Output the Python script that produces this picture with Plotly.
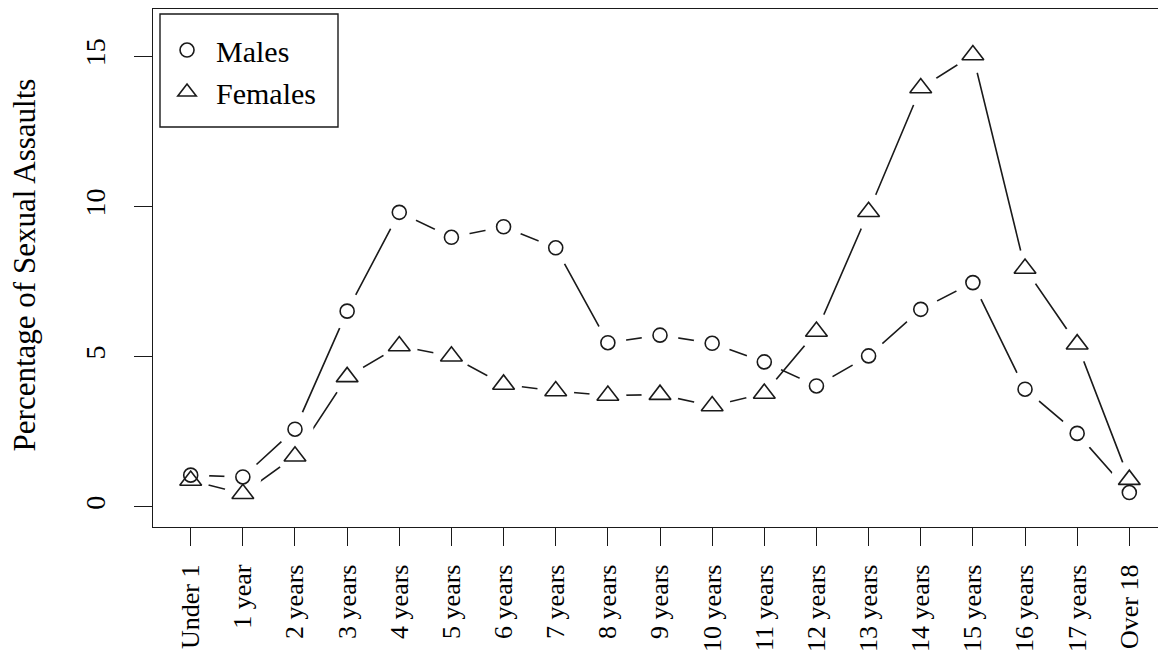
import plotly.graph_objects as go

ages = ["Under 1", "1 year", "2 years", "3 years", "4 years", "5 years", "6 years",
        "7 years", "8 years", "9 years", "10 years", "11 years", "12 years",
        "13 years", "14 years", "15 years", "16 years", "17 years", "Over 18"]
males = [1.06, 1.0, 2.59, 6.52, 9.81, 8.98, 9.33, 8.63, 5.47, 5.72, 5.45, 4.83,
         4.03, 5.03, 6.58, 7.47, 3.92, 2.45, 0.48]
females = [0.88, 0.44, 1.69, 4.33, 5.36, 5.02, 4.08, 3.86, 3.71, 3.74, 3.36, 3.78,
           5.84, 9.83, 13.95, 15.05, 7.94, 5.42, 0.91]
y_ticks = [0, 5, 10, 15]

xpos = list(range(1, len(ages) + 1))
FONT = "Liberation Serif"
INK = "#1a1a1a"
XR = [0.277, 19.55]
YR = [-0.667, 16.58]

fig = go.Figure()
# connecting lines (base subplot)
for vals in (males, females):
    fig.add_trace(go.Scatter(x=xpos, y=vals, mode="lines",
                             line=dict(color=INK, width=1.6),
                             showlegend=False, hoverinfo="skip",
                             xaxis="x", yaxis="y"))
# white masks on the overlay subplot: R type="b" gaps around points
for vals in (males, females):
    fig.add_trace(go.Scatter(x=xpos, y=vals, mode="markers",
                             marker=dict(symbol="circle", size=37, color="white",
                                         opacity=1, line=dict(width=0)),
                             showlegend=False, hoverinfo="skip",
                             xaxis="x2", yaxis="y2"))
# open markers
fig.add_trace(go.Scatter(x=xpos, y=males, mode="markers", name="Males",
                         marker=dict(symbol="circle-open", size=14,
                                     color=INK, line=dict(width=1.6, color=INK)),
                         xaxis="x2", yaxis="y2"))
fig.add_trace(go.Scatter(x=xpos, y=females, mode="markers", name="Females",
                         marker=dict(symbol="triangle-up-open", size=19,
                                     color=INK, line=dict(width=1.6, color=INK)),
                         xaxis="x2", yaxis="y2"))

# legend frame (paper coordinates)
fig.add_shape(type="rect", xref="paper", yref="paper",
              x0=7 / 1005, x1=185 / 1005, y0=400 / 518, y1=513 / 518,
              line=dict(color=INK, width=1.4), fillcolor="rgba(0,0,0,0)", layer="above")

# y-axis title as annotation
fig.add_annotation(text="Percentage of Sexual Assaults", xref="paper", yref="paper",
                   x=(24 - 153) / 1005, y=0.505, xanchor="center", yanchor="middle",
                   textangle=-90, showarrow=False,
                   font=dict(family=FONT, size=31, color="black"))

fig.update_layout(
    width=1158, height=654,
    margin=dict(l=153, r=0, t=9, b=127, autoexpand=False),
    paper_bgcolor="white", plot_bgcolor="white",
    font=dict(family=FONT, color="black"),
    showlegend=True,
    legend=dict(x=0.005, y=0.971, xanchor="left", yanchor="top",
                borderwidth=0, bgcolor="rgba(0,0,0,0)",
                font=dict(family=FONT, size=30, color="black"),
                tracegroupgap=0, itemwidth=48),
    xaxis=dict(range=XR, tickmode="array", tickvals=xpos, ticktext=ages,
               tickangle=-90, tickfont=dict(family=FONT, size=26, color="black"),
               ticks="outside", ticklen=18, tickwidth=1.3, tickcolor=INK,
               ticklabelstandoff=8, automargin=False,
               showline=True, linecolor=INK, linewidth=1.3, mirror=True,
               showgrid=False, zeroline=False),
    yaxis=dict(range=YR, tickmode="array", tickvals=y_ticks,
               ticktext=[str(v) for v in y_ticks],
               tickangle=-90, tickfont=dict(family=FONT, size=28, color="black"),
               ticks="outside", ticklen=18, tickwidth=1.3, tickcolor=INK,
               ticklabelstandoff=18, automargin=False,
               showline=True, linecolor=INK, linewidth=1.3, mirror=False,
               showgrid=False, zeroline=False),
    xaxis2=dict(range=XR, overlaying="x", visible=False, showgrid=False,
                zeroline=False),
    yaxis2=dict(range=YR, overlaying="y", visible=False, showgrid=False,
                zeroline=False),
)

fig.write_html("out.html",
               config={"displayModeBar": False},
               post_script="document.body.style.margin='0';"
                           "document.body.style.overflow='hidden';")
